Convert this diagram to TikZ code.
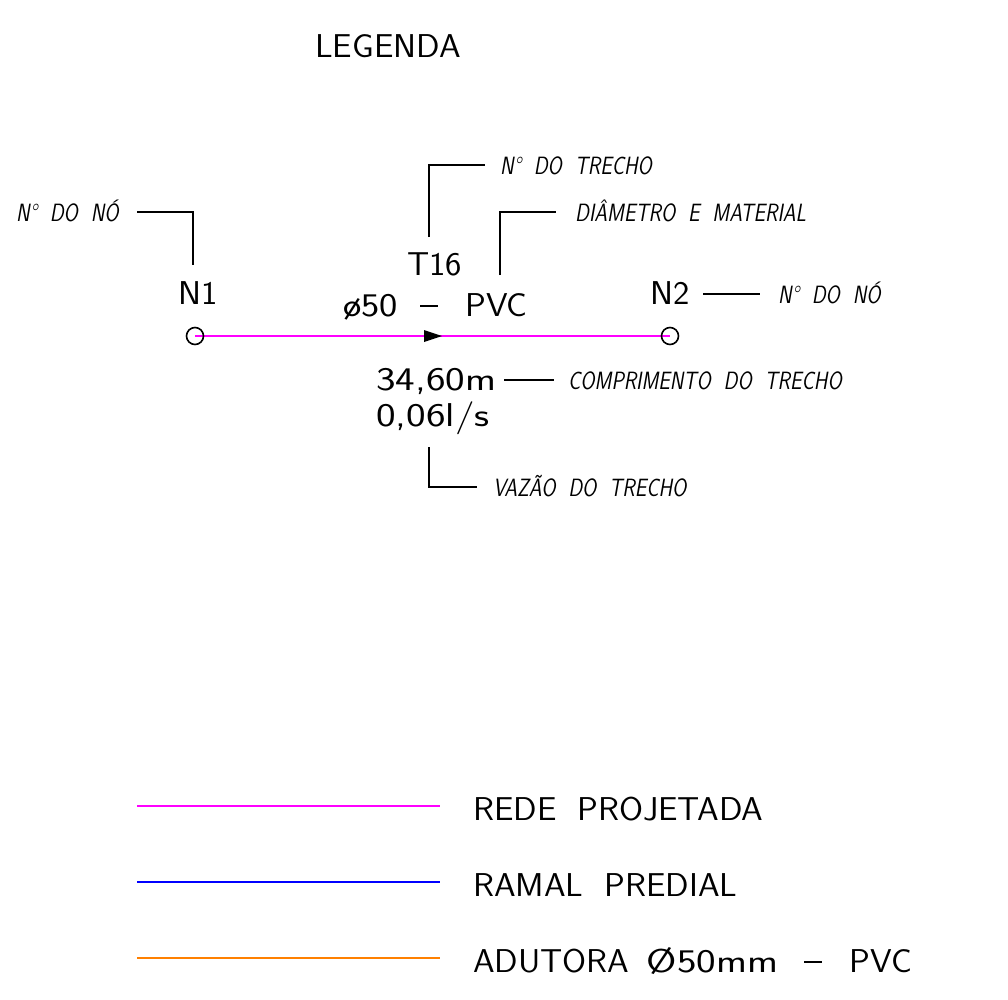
\documentclass[tikz,border=0pt]{standalone}
\usepackage{fontspec}
\usetikzlibrary{positioning}
\definecolor{rede}{RGB}{255,0,255}
\definecolor{ramal}{RGB}{0,0,255}
\definecolor{adutora}{RGB}{255,128,0}
\newcommand{\traco}{\rule[9pt]{17pt}{1.8pt}}
\tikzset{
  texto/.style={font=\sffamily\fontsize{33}{33}\selectfont, inner sep=0pt, anchor=base west, xscale=1.05},
  nota/.style={font=\sffamily\itshape\fontsize{25}{25}\selectfont, inner sep=0pt, anchor=base west, xscale=0.82},
  guia/.style={line width=1.6pt},
  no/.style={draw, circle, minimum size=17pt, inner sep=0pt, line width=1.6pt},
  tubo/.style={line width=1.8pt},
}
\begin{document}
\begin{tikzpicture}[x=1pt,y=-1pt]
\useasboundingbox (0,0) rectangle (1008,999);
\node[texto] (legenda) at (315,57) {LEGENDA};
% trecho
\coordinate (c1) at (195,336);
\coordinate (c2) at (670,336);
\draw[tubo,rede] (c1) -- (c2);
\node[no] (n1) at (c1) {};
\node[no] (n2) at (c2) {};
\fill (424,330) -- (442,336) -- (424,342) -- cycle;
\node[texto] (rotN1) at (178,304) {N1};
\node[texto] (rotN2) at (650,304) {N2};
\node[texto] (rotT) at (407,275) {T16};
\node[texto] (diam) at (343,316) {\scalebox{1.12}[1]{ø50}\hspace{0.65em}\traco\hspace{0.78em}PVC};
\node[texto, xscale=1.2] (compr) at (376,390) {34,60m};
\node[texto, xscale=1.2] (vazao) at (376,426) {0,06l/s};
% notas
\node[nota] (notaN1) at (16,221) {N° \ DO \ NÓ};
\node[nota] (notaN2) at (778,303) {N° \ DO \ NÓ};
\node[nota] (notaT) at (500,174) {N° \ DO \ TRECHO};
\node[nota] (notaD) at (575,221) {DIÂMETRO \ E \ MATERIAL};
\node[nota] (notaC) at (568,389) {COMPRIMENTO \ DO \ TRECHO};
\node[nota] (notaV) at (493,496) {VAZÃO \ DO \ TRECHO};
% linhas de chamada
\coordinate (a1) at (137,212); \coordinate (b1) at (193,212); \coordinate (e1) at (193,265);
\draw[guia] (a1) -- (b1) -- (e1);
\coordinate (a2) at (703,294); \coordinate (b2) at (760,294);
\draw[guia] (a2) -- (b2);
\coordinate (a3) at (429,237); \coordinate (b3) at (429,165); \coordinate (e3) at (485,165);
\draw[guia] (a3) -- (b3) -- (e3);
\coordinate (a4) at (500,275); \coordinate (b4) at (500,212); \coordinate (e4) at (556,212);
\draw[guia] (a4) -- (b4) -- (e4);
\coordinate (a5) at (504,380); \coordinate (b5) at (554,380);
\draw[guia] (a5) -- (b5);
\coordinate (a6) at (429,447); \coordinate (b6) at (429,487); \coordinate (e6) at (477,487);
\draw[guia] (a6) -- (b6) -- (e6);
% legenda
\foreach \cor/\y/\txt in {rede/806/{REDE\hspace{0.6em}PROJETADA},
    ramal/882/{RAMAL\hspace{0.6em}PREDIAL},
    adutora/958/{ADUTORA\hspace{0.5em}\scalebox{1.2}[1]{Ø50mm}\hspace{0.75em}\traco\hspace{0.8em}PVC}}{
  \coordinate (ini-\cor) at (137,\y);
  \coordinate (fim-\cor) at (440,\y);
  \draw[tubo,\cor] (ini-\cor) -- (fim-\cor);
  \node[texto] (leg-\cor) at (473,\y+14) {\txt};
}
\end{tikzpicture}
\end{document}
